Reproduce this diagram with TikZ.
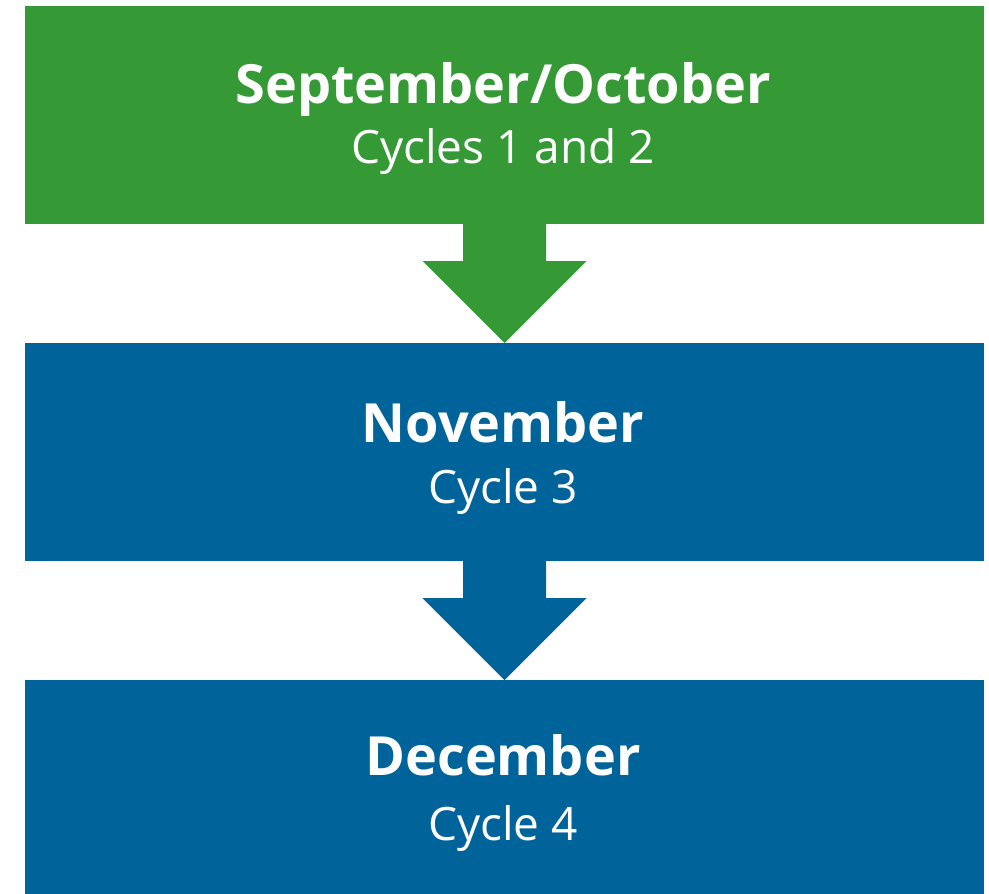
\documentclass[tikz,border=0pt]{standalone}
\usepackage{fontspec}
\setmainfont{Open Sans}
\usetikzlibrary{calc}
\definecolor{cgreen}{RGB}{53,154,54}
\definecolor{cblue}{RGB}{0,99,153}
\tikzset{
  box/.style={rectangle, minimum width=959pt, minimum height=218pt, inner sep=0pt, outer sep=0pt, anchor=north west},
  ttl/.style={text=white, anchor=base, inner sep=0pt, font=\fontsize{54}{66}\selectfont\bfseries},
  sub/.style={text=white, anchor=base, inner sep=0pt, font=\fontsize{46}{56}\selectfont},
}
\begin{document}
\begin{tikzpicture}[x=1pt,y=-1pt]
\useasboundingbox (0,0) rectangle (989,894);
\clip (0,0) rectangle (989,894);
\node[box, fill=cgreen] (b1) at (25,6) {};
\node[box, fill=cblue] (b2) at (25,343) {};
\node[box, fill=cblue] (b3) at (25,680) {};
\fill[cgreen] ($(b1.south)+(-41.5,-1)$) -- ($(b1.south)+(-41.5,37)$) -- ($(b1.south)+(-82,37)$) -- (b2.north)
  -- ($(b1.south)+(82,37)$) -- ($(b1.south)+(41.5,37)$) -- ($(b1.south)+(41.5,-1)$) -- cycle;
\fill[cblue] ($(b2.south)+(-41.5,-1)$) -- ($(b2.south)+(-41.5,37)$) -- ($(b2.south)+(-82,37)$) -- (b3.north)
  -- ($(b2.south)+(82,37)$) -- ($(b2.south)+(41.5,37)$) -- ($(b2.south)+(41.5,-1)$) -- cycle;
\node[ttl] (t1) at ($(b1.north)+(-1.5,97)$) {September/October};
\node[sub] (s1) at ($(b1.north)+(-1.5,157)$) {Cycles 1 and 2};
\node[ttl] (t2) at ($(b2.north)+(-1.5,99)$) {November};
\node[sub] (s2) at ($(b2.north)+(-1.5,160)$) {Cycle 3};
\node[ttl] (t3) at ($(b3.north)+(-1.5,95)$) {December};
\node[sub] (s3) at ($(b3.north)+(-1.5,160)$) {Cycle 4};
\end{tikzpicture}
\end{document}
